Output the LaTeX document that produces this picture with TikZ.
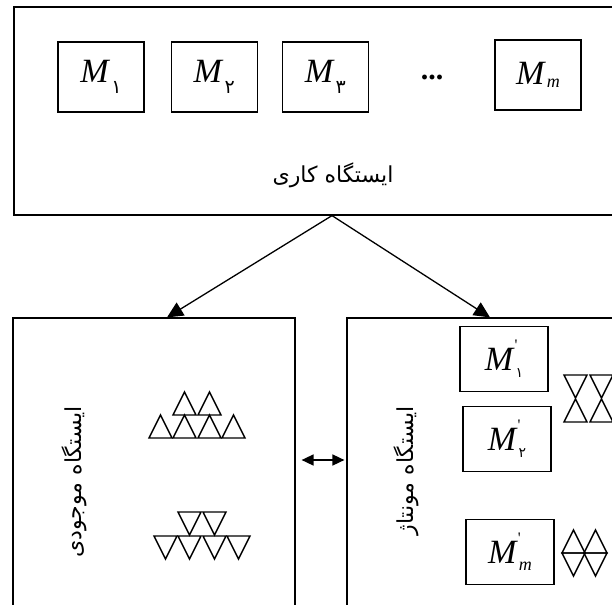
\documentclass[tikz,border=0pt]{standalone}
\usepackage{fontspec}
\setmainfont{Liberation Serif}
\newfontfamily\fafont[Script=Arabic]{DejaVu Sans}
\TeXXeTstate=1
\usetikzlibrary{positioning}
\usetikzlibrary{arrows.meta}

\newcommand\sub[1]{\kern1pt\raisebox{-11pt}{\fontsize{19}{19}\selectfont\fafont #1}}
\newcommand\psub[1]{\kern1pt\raisebox{-7pt}{\fontsize{14}{14}\selectfont\fafont #1}}
\newcommand\subm[1]{\kern1pt\raisebox{-#1}{\fontsize{18}{18}\selectfont\textit{m}}}
\newcommand\prm{\rlap{\raisebox{20pt}{\fontsize{16}{16}\selectfont\textquotesingle}}}
\newcommand\uptri[2]{\draw[tri] (#1,#2) -- ++(23,0) -- ++(-11.5,-23) -- cycle;}
\newcommand\dntri[2]{\draw[tri] (#1,#2) -- ++(23,0) -- ++(-11.5,23) -- cycle;}

\begin{document}
\begin{tikzpicture}[x=1pt,y=-1pt,
  box/.style={draw=black,line width=1.2pt,rectangle,inner sep=0pt},
  mbox/.style={box,minimum width=86pt,minimum height=70pt,font=\fontsize{34}{40}\selectfont},
  pbox/.style={box,minimum width=88pt,minimum height=65pt,font=\fontsize{34}{40}\selectfont},
  lbl/.style={font=\fafont\fontsize{22}{26}\selectfont},
  tri/.style={draw=black,line width=1.4pt,line join=miter},
  arr/.style={line width=1.3pt,-{Triangle[length=16pt,width=15pt]}}]
\useasboundingbox (0,0) rectangle (612,604);
\clip (0,0) rectangle (612,604);

% work station
\node[box,minimum width=636pt,minimum height=208pt] (work) at (332,111) {};
\node[mbox] (m1) at (101,77) {\textit{M}\sub{۱}};
\node[mbox,right=26pt of m1] (m2) {\textit{M}\sub{۲}};
\node[mbox,right=24pt of m2] (m3) {\textit{M}\sub{۳}};
\node[font=\fontsize{30}{34}\selectfont\bfseries,anchor=base] (dots) at (432,80) {...};
\node[mbox] (mm) at (538,75) {\textit{M}\subm{3pt}};
\node[lbl] (worklbl) at (333,175) {\beginR ایستگاه کاری\endR};

% lower stations
\node[box,minimum width=282pt,minimum height=292pt] (stock) at (154,464) {};
\node[box,minimum width=286pt,minimum height=292pt] (assembly) at (490,464) {};
\node[lbl,rotate=90] (stocklbl) at (74,482) {\beginR ایستگاه موجودی\endR};
\node[lbl,rotate=90] (asmlbl) at (406,471) {\beginR ایستگاه مونتاژ\endR};

\node[pbox] (p1) at (504,359) {\textit{M}\prm\psub{۱}};
\node[pbox] (p2) at (507,439) {\textit{M}\prm\psub{۲}};
\node[pbox] (pm) at (510,552) {\textit{M}\prm\subm{7pt}};

% parts in stock
\foreach \x in {149,173,198,222} \uptri{\x}{438};
\foreach \x in {173,198} \uptri{\x}{415};
\foreach \x in {178,203} \dntri{\x}{512};
\foreach \x in {154,178,203,227} \dntri{\x}{536};

% parts at assembly
\foreach \x in {564,590} {\dntri{\x}{375} \uptri{\x}{422}}
\foreach \x in {562,584} {\uptri{\x}{553} \dntri{\x}{553}}

% connectors
\coordinate (link) at (323,460);
\draw[arr] (work.south) -- ([xshift=13pt]stock.north);
\draw[arr] (work.south) -- (assembly.north);
\draw[line width=1.6pt,{Triangle[length=12pt,width=11pt]}-{Triangle[length=12pt,width=11pt]},shorten <=6pt,shorten >=2pt] (stock.east |- link) -- (assembly.west |- link);

\end{tikzpicture}
\end{document}
